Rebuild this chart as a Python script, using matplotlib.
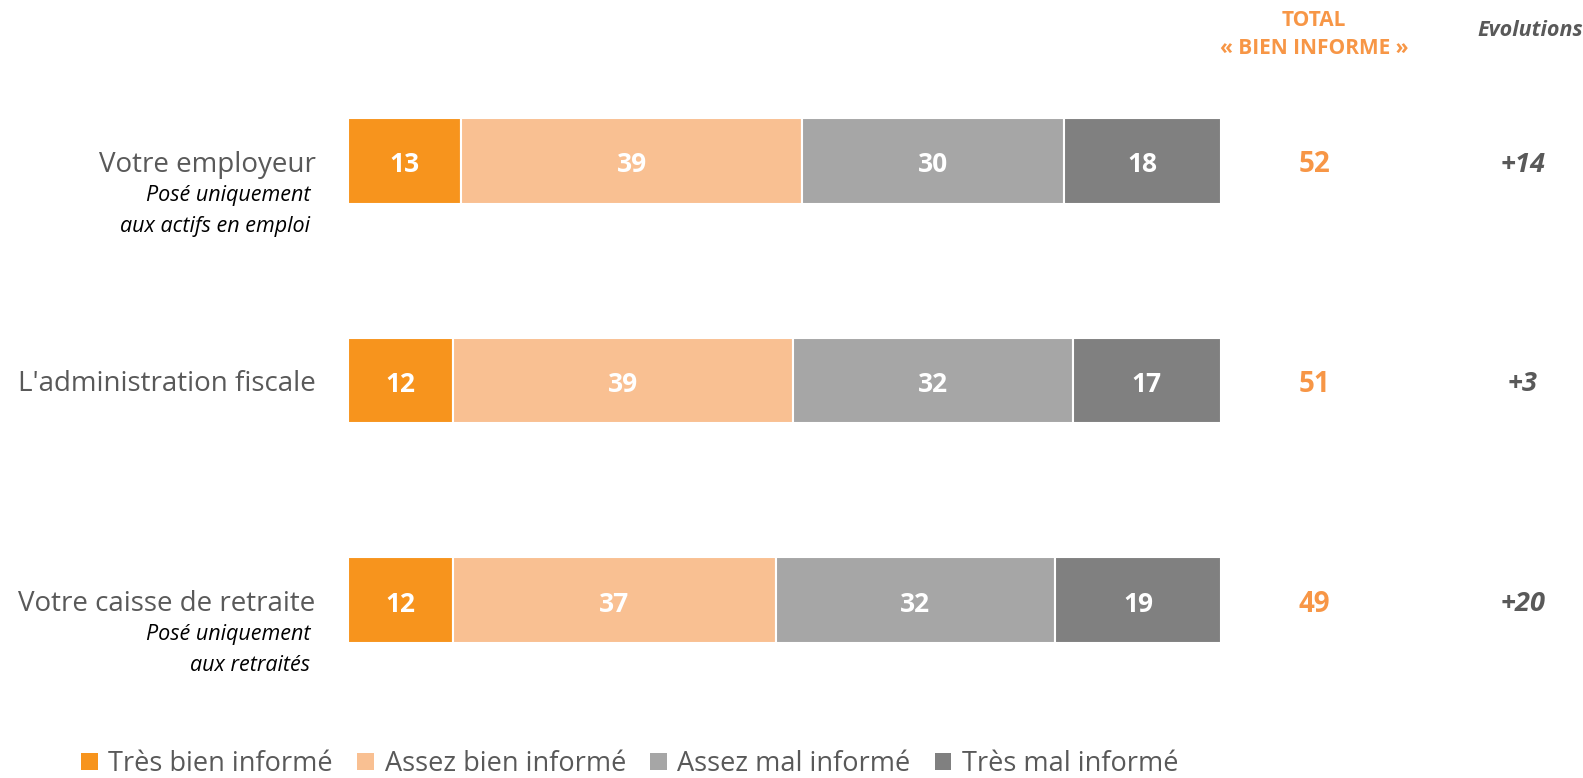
import matplotlib
matplotlib.use("Agg")
import matplotlib.pyplot as plt
from matplotlib.patches import Patch
import numpy as np

plt.rcParams['font.family'] = ['Open Sans', 'DejaVu Sans']

categories = ["Votre employeur", "L'administration fiscale", "Votre caisse de retraite"]
subtitles = [["Posé uniquement", "aux actifs en emploi"], [], ["Posé uniquement", "aux retraités"]]
series_names = ["Très bien informé", "Assez bien informé", "Assez mal informé", "Très mal informé"]
tres_bien = [13, 12, 12]
assez_bien = [39, 39, 37]
assez_mal = [30, 32, 32]
tres_mal = [18, 17, 19]
totals = [52, 51, 49]
evolutions = ["+14", "+3", "+20"]

colors = ["#F7941D", "#F9C092", "#A6A6A6", "#808080"]
orange_txt = "#F79646"
grey_txt = "#595959"

W, H = 1583, 778
fig = plt.figure(figsize=(W / 100, H / 100), dpi=100)
ax = fig.add_axes([348 / W, 1 - 710 / H, 873 / W, 659 / H])

dy = 0.018  # small nudge so text sits visually centred on the bars

y = np.arange(len(categories))
left = np.zeros(len(categories))
for vals, col in zip([tres_bien, assez_bien, assez_mal, tres_mal], colors):
    ax.barh(y, vals, left=left, height=0.39, color=col, edgecolor="white", linewidth=1.5)
    for yi, l, v in zip(y, left, vals):
        ax.text(l + v / 2, yi + dy, str(v), ha="center", va="center", color="white",
                fontsize=19, fontweight="bold")
    left += np.array(vals)

ax.set_xlim(0, 100)
ax.set_ylim(2.5, -0.5)
ax.axis("off")

# category labels
for yi, cat, subs in zip(y, categories, subtitles):
    ax.text(-3.7, yi + dy, cat, ha="right", va="center", fontsize=20, color=grey_txt)
    for k, s in enumerate(subs):
        ax.text(-4.3, yi + dy + 0.14 + 0.14 * k, s, ha="right", va="center", fontsize=15.5,
                style="italic", color="black")

# totals and evolutions
for yi, t, e in zip(y, totals, evolutions):
    ax.text(110.7, yi + dy, str(t), ha="center", va="center", fontsize=20,
            fontweight="bold", color=orange_txt)
    ax.text(134.6, yi + dy, e, ha="center", va="center", fontsize=19.5,
            fontweight="bold", style="italic", color=grey_txt)

fig.text(1314 / W, 1 - 20 / H, "TOTAL", ha="center", va="center", fontsize=15,
         fontweight="bold", color=orange_txt)
fig.text(1314 / W, 1 - 48 / H, "« BIEN INFORME »", ha="center", va="center", fontsize=15,
         fontweight="bold", color=orange_txt)
fig.text(1530 / W, 1 - 31 / H, "Evolutions", ha="center", va="center", fontsize=15.5,
         fontweight="bold", style="italic", color=grey_txt)

handles = [Patch(facecolor=c, edgecolor="none") for c in colors]
fig.legend(handles, series_names, loc="center", bbox_to_anchor=(630 / W, 1 - 764 / H),
           ncol=4, frameon=False, fontsize=19.5, handlelength=0.6, handleheight=0.6,
           handletextpad=0.4, columnspacing=0.9, labelcolor=grey_txt, borderpad=0.1)

fig.savefig("out.png", dpi=100)
